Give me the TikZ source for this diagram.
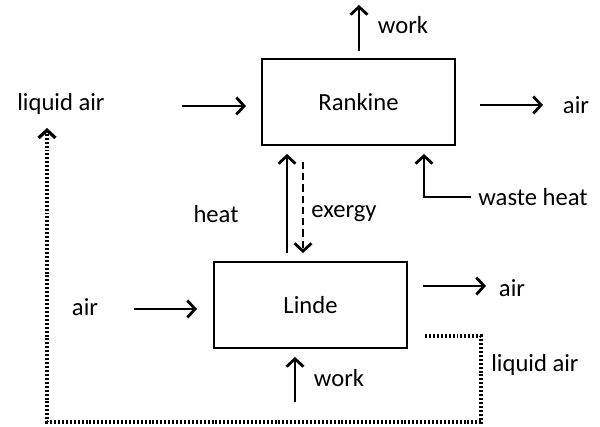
\documentclass[tikz,border=0pt]{standalone}
\usepackage{fontspec}
\setmainfont{Carlito}
\usetikzlibrary{arrows.meta}
\begin{document}
\begin{tikzpicture}[x=0.025cm, y=-0.025cm, line width=2pt,
	>={Straight Barb[length=5.5pt,width=12pt]},
	box/.style={draw, minimum width=4.825cm, minimum height=2.15cm, font=\fontsize{17.5}{20}\selectfont},
	lbl/.style={inner sep=0pt, font=\fontsize{17.5}{20}\selectfont},
	flow/.style={->},
	loop/.style={->, line width=2.3pt, dash pattern=on 1.4pt off 1.4pt}]
	\useasboundingbox (0,0) rectangle (600,427);
	% blocks
	\node (R) at (358.5, 102)	[box]	{Rankine};
	\node (L) at (310.5, 305)	[box]	{Linde};
	% labels
	\node (liqin)	at ( 61, 104)	[lbl]	{liquid air};
	\node (wR)	at (403,  25)	[lbl]	{work};
	\node (airR)	at (576, 105)	[lbl]	{air};
	\node (waste)	at (533, 197)	[lbl]	{waste heat};
	\node (heat)	at (216, 214)	[lbl]	{heat};
	\node (ex)	at (344, 214)	[lbl]	{exergy};
	\node (airin)	at ( 85, 307)	[lbl]	{air};
	\node (airL)	at (512, 288)	[lbl]	{air};
	\node (wL)	at (339, 378)	[lbl]	{work};
	\node (liqout)	at (535, 365)	[lbl]	{liquid air};
	% arrow ends
	\coordinate (a1) at (182, 106);	\coordinate (a2) at (246, 106);
	\coordinate (b1) at (480, 105);	\coordinate (b2) at (543, 105);
	\coordinate (c1) at (359,  51);	\coordinate (c2) at (359,   5);
	\coordinate (d1) at (471, 197);	\coordinate (d2) at (424, 154);
	\coordinate (e1) at (287, 253);	\coordinate (e2) at (287, 154);
	\coordinate (f1) at (303, 162);	\coordinate (f2) at (303, 253);
	\coordinate (g1) at (134, 309);	\coordinate (g2) at (197, 309);
	\coordinate (h1) at (423, 286);	\coordinate (h2) at (486, 286);
	\coordinate (k1) at (295, 402);	\coordinate (k2) at (295, 357);
	\coordinate (m1) at (425, 336);	\coordinate (m2) at ( 47, 128);
	\draw[flow] (a1) -- (a2);
	\draw[flow] (b1) -- (b2);
	\draw[flow] (c1) -- (c2);
	\draw[flow] (d1) -| (d2);
	\draw[flow] (e1) -- (e2);
	\draw[flow, dash pattern=on 5pt off 3pt] (f1) -- (f2);
	\draw[flow] (g1) -- (g2);
	\draw[flow] (h1) -- (h2);
	\draw[flow] (k1) -- (k2);
	\draw[loop] (m1) -- (481, 336) -- (481, 422) -- (47, 422) -- (m2);
\end{tikzpicture}
\end{document}
